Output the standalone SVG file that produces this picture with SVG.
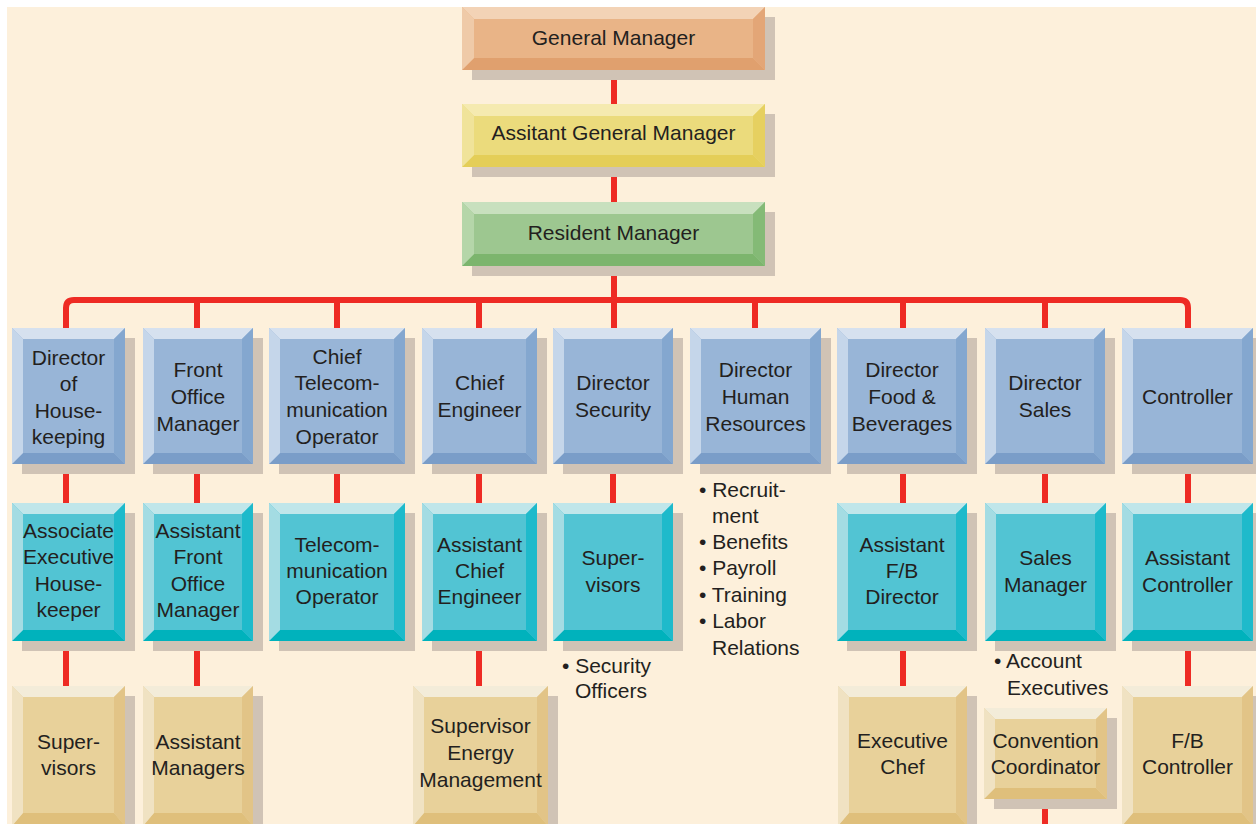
<svg xmlns="http://www.w3.org/2000/svg" width="1256" height="824" viewBox="0 0 1256 824">
<style>
text{font-family:"Liberation Sans",Arial,sans-serif;font-size:21px;fill:#231F20;text-anchor:middle}
.bl{text-anchor:start}
.sh{fill:#D0C3B5}
.conn line,.conn path{stroke:#EE2B24;stroke-width:6;fill:none}
.gm .f{fill:#E9B487}.gm .t{fill:#F3D3B6}.gm .l{fill:#EFCAA8}.gm .r{fill:#E3A677}.gm .b{fill:#E0A06E}
.ag .f{fill:#EBDB7C}.ag .t{fill:#F5EAB0}.ag .l{fill:#F0E39A}.ag .r{fill:#E6D060}.ag .b{fill:#E4CE58}
.rm .f{fill:#9DC790}.rm .t{fill:#C8E0BE}.rm .l{fill:#B5D6A9}.rm .r{fill:#84BA76}.rm .b{fill:#7CB56D}
.r1 .f{fill:#98B5D7}.r1 .t{fill:#D6E1EF}.r1 .l{fill:#C5D6EA}.r1 .r{fill:#84A7CF}.r1 .b{fill:#7A9DC8}
.r2 .f{fill:#52C4D3}.r2 .t{fill:#C0E6EA}.r2 .l{fill:#A4DCE3}.r2 .r{fill:#1EBACB}.r2 .b{fill:#00B2BC}
.r3 .f{fill:#E8D19A}.r3 .t{fill:#F3ECD9}.r3 .l{fill:#F0E2C2}.r3 .r{fill:#E2C487}.r3 .b{fill:#DFBF7B}
</style>
<rect x="0" y="0" width="1256" height="824" fill="#FFFFFF"/>
<rect x="7" y="7" width="1249" height="817" fill="#FDF0DB"/>

<g id="connectors" class="conn">
<line x1="614" y1="70" x2="614" y2="104"/>
<line x1="614" y1="167" x2="614" y2="202"/>
<line x1="614" y1="266" x2="614" y2="328"/>
<path d="M66,328 V308 Q66,300 74,300 H1180 Q1188,300 1188,308 V328"/>
<line x1="197" y1="300" x2="197" y2="328"/>
<line x1="337" y1="300" x2="337" y2="328"/>
<line x1="479" y1="300" x2="479" y2="328"/>
<line x1="755" y1="300" x2="755" y2="328"/>
<line x1="903" y1="300" x2="903" y2="328"/>
<line x1="1045" y1="300" x2="1045" y2="328"/>
<line x1="66" y1="464" x2="66" y2="503"/>
<line x1="197" y1="464" x2="197" y2="503"/>
<line x1="337" y1="464" x2="337" y2="503"/>
<line x1="479" y1="464" x2="479" y2="503"/>
<line x1="613" y1="464" x2="613" y2="503"/>
<line x1="903" y1="464" x2="903" y2="503"/>
<line x1="1045" y1="464" x2="1045" y2="503"/>
<line x1="1188" y1="464" x2="1188" y2="503"/>
<line x1="66" y1="641" x2="66" y2="686"/>
<line x1="197" y1="641" x2="197" y2="686"/>
<line x1="479" y1="641" x2="479" y2="686"/>
<line x1="903" y1="641" x2="903" y2="686"/>
<line x1="1188" y1="641" x2="1188" y2="686"/>
<line x1="1045" y1="799" x2="1045" y2="824"/>
</g>

<g id="general-manager" class="gm">
<rect class="sh" x="472" y="17" width="303" height="63"/>
<rect class="f" x="462" y="7" width="303" height="63"/>
<polygon class="t" points="462,7 765,7 753,19 474,19"/>
<polygon class="b" points="462,70 765,70 753,58 474,58"/>
<polygon class="l" points="462,7 474,19 474,58 462,70"/>
<polygon class="r" points="765,7 753,19 753,58 765,70"/>
<text x="613.5" y="45">General Manager</text>
</g>

<g id="assistant-gm" class="ag">
<rect class="sh" x="472" y="114" width="303" height="63"/>
<rect class="f" x="462" y="104" width="303" height="63"/>
<polygon class="t" points="462,104 765,104 753,116 474,116"/>
<polygon class="b" points="462,167 765,167 753,155 474,155"/>
<polygon class="l" points="462,104 474,116 474,155 462,167"/>
<polygon class="r" points="765,104 753,116 753,155 765,167"/>
<text x="613.5" y="140">Assitant General Manager</text>
</g>

<g id="resident-manager" class="rm">
<rect class="sh" x="472" y="212" width="303" height="64"/>
<rect class="f" x="462" y="202" width="303" height="64"/>
<polygon class="t" points="462,202 765,202 753,214 474,214"/>
<polygon class="b" points="462,266 765,266 753,254 474,254"/>
<polygon class="l" points="462,202 474,214 474,254 462,266"/>
<polygon class="r" points="765,202 753,214 753,254 765,266"/>
<text x="613.5" y="240">Resident Manager</text>
</g>

<!-- Row 1 -->
<g id="dir-housekeeping" class="r1">
<rect class="sh" x="22" y="338" width="113" height="136"/>
<rect class="f" x="12" y="328" width="113" height="136"/>
<polygon class="t" points="12,328 125,328 114,339 23,339"/>
<polygon class="b" points="12,464 125,464 114,453 23,453"/>
<polygon class="l" points="12,328 23,339 23,453 12,464"/>
<polygon class="r" points="125,328 114,339 114,453 125,464"/>
<text x="68.5" y="365">Director</text><text x="68.5" y="391">of</text><text x="68.5" y="418">House-</text><text x="68.5" y="444">keeping</text>
</g>

<g id="front-office-manager" class="r1">
<rect class="sh" x="153" y="338" width="110" height="136"/>
<rect class="f" x="143" y="328" width="110" height="136"/>
<polygon class="t" points="143,328 253,328 242,339 154,339"/>
<polygon class="b" points="143,464 253,464 242,453 154,453"/>
<polygon class="l" points="143,328 154,339 154,453 143,464"/>
<polygon class="r" points="253,328 242,339 242,453 253,464"/>
<text x="198" y="377">Front</text><text x="198" y="404">Office</text><text x="198" y="431">Manager</text>
</g>

<g id="chief-telecom-operator" class="r1">
<rect class="sh" x="279" y="338" width="136" height="136"/>
<rect class="f" x="269" y="328" width="136" height="136"/>
<polygon class="t" points="269,328 405,328 394,339 280,339"/>
<polygon class="b" points="269,464 405,464 394,453 280,453"/>
<polygon class="l" points="269,328 280,339 280,453 269,464"/>
<polygon class="r" points="405,328 394,339 394,453 405,464"/>
<text x="337" y="364">Chief</text><text x="337" y="390">Telecom-</text><text x="337" y="417">munication</text><text x="337" y="444">Operator</text>
</g>

<g id="chief-engineer" class="r1">
<rect class="sh" x="432" y="338" width="115" height="136"/>
<rect class="f" x="422" y="328" width="115" height="136"/>
<polygon class="t" points="422,328 537,328 526,339 433,339"/>
<polygon class="b" points="422,464 537,464 526,453 433,453"/>
<polygon class="l" points="422,328 433,339 433,453 422,464"/>
<polygon class="r" points="537,328 526,339 526,453 537,464"/>
<text x="479.5" y="390">Chief</text><text x="479.5" y="417">Engineer</text>
</g>

<g id="director-security" class="r1">
<rect class="sh" x="563" y="338" width="120" height="136"/>
<rect class="f" x="553" y="328" width="120" height="136"/>
<polygon class="t" points="553,328 673,328 662,339 564,339"/>
<polygon class="b" points="553,464 673,464 662,453 564,453"/>
<polygon class="l" points="553,328 564,339 564,453 553,464"/>
<polygon class="r" points="673,328 662,339 662,453 673,464"/>
<text x="613" y="390">Director</text><text x="613" y="417">Security</text>
</g>

<g id="director-hr" class="r1">
<rect class="sh" x="700" y="338" width="131" height="136"/>
<rect class="f" x="690" y="328" width="131" height="136"/>
<polygon class="t" points="690,328 821,328 810,339 701,339"/>
<polygon class="b" points="690,464 821,464 810,453 701,453"/>
<polygon class="l" points="690,328 701,339 701,453 690,464"/>
<polygon class="r" points="821,328 810,339 810,453 821,464"/>
<text x="755.5" y="377">Director</text><text x="755.5" y="404">Human</text><text x="755.5" y="431">Resources</text>
</g>

<g id="director-fb" class="r1">
<rect class="sh" x="847" y="338" width="130" height="136"/>
<rect class="f" x="837" y="328" width="130" height="136"/>
<polygon class="t" points="837,328 967,328 956,339 848,339"/>
<polygon class="b" points="837,464 967,464 956,453 848,453"/>
<polygon class="l" points="837,328 848,339 848,453 837,464"/>
<polygon class="r" points="967,328 956,339 956,453 967,464"/>
<text x="902" y="377">Director</text><text x="902" y="404">Food &amp;</text><text x="902" y="431">Beverages</text>
</g>

<g id="director-sales" class="r1">
<rect class="sh" x="995" y="338" width="120" height="136"/>
<rect class="f" x="985" y="328" width="120" height="136"/>
<polygon class="t" points="985,328 1105,328 1094,339 996,339"/>
<polygon class="b" points="985,464 1105,464 1094,453 996,453"/>
<polygon class="l" points="985,328 996,339 996,453 985,464"/>
<polygon class="r" points="1105,328 1094,339 1094,453 1105,464"/>
<text x="1045" y="390">Director</text><text x="1045" y="417">Sales</text>
</g>

<g id="controller" class="r1">
<rect class="sh" x="1132" y="338" width="131" height="136"/>
<rect class="f" x="1122" y="328" width="131" height="136"/>
<polygon class="t" points="1122,328 1253,328 1242,339 1133,339"/>
<polygon class="b" points="1122,464 1253,464 1242,453 1133,453"/>
<polygon class="l" points="1122,328 1133,339 1133,453 1122,464"/>
<polygon class="r" points="1253,328 1242,339 1242,453 1253,464"/>
<text x="1187.5" y="404">Controller</text>
</g>

<!-- Row 2 -->
<g id="assoc-exec-housekeeper" class="r2">
<rect class="sh" x="22" y="513" width="113" height="138"/>
<rect class="f" x="12" y="503" width="113" height="138"/>
<polygon class="t" points="12,503 125,503 114,514 23,514"/>
<polygon class="b" points="12,641 125,641 114,630 23,630"/>
<polygon class="l" points="12,503 23,514 23,630 12,641"/>
<polygon class="r" points="125,503 114,514 114,630 125,641"/>
<text x="68.5" y="538">Associate</text><text x="68.5" y="564">Executive</text><text x="68.5" y="591">House-</text><text x="68.5" y="617">keeper</text>
</g>

<g id="asst-front-office-manager" class="r2">
<rect class="sh" x="153" y="513" width="110" height="138"/>
<rect class="f" x="143" y="503" width="110" height="138"/>
<polygon class="t" points="143,503 253,503 242,514 154,514"/>
<polygon class="b" points="143,641 253,641 242,630 154,630"/>
<polygon class="l" points="143,503 154,514 154,630 143,641"/>
<polygon class="r" points="253,503 242,514 242,630 253,641"/>
<text x="198" y="538">Assistant</text><text x="198" y="564">Front</text><text x="198" y="591">Office</text><text x="198" y="617">Manager</text>
</g>

<g id="telecom-operator" class="r2">
<rect class="sh" x="279" y="513" width="136" height="138"/>
<rect class="f" x="269" y="503" width="136" height="138"/>
<polygon class="t" points="269,503 405,503 394,514 280,514"/>
<polygon class="b" points="269,641 405,641 394,630 280,630"/>
<polygon class="l" points="269,503 280,514 280,630 269,641"/>
<polygon class="r" points="405,503 394,514 394,630 405,641"/>
<text x="337" y="552">Telecom-</text><text x="337" y="578">munication</text><text x="337" y="604">Operator</text>
</g>

<g id="asst-chief-engineer" class="r2">
<rect class="sh" x="432" y="513" width="115" height="138"/>
<rect class="f" x="422" y="503" width="115" height="138"/>
<polygon class="t" points="422,503 537,503 526,514 433,514"/>
<polygon class="b" points="422,641 537,641 526,630 433,630"/>
<polygon class="l" points="422,503 433,514 433,630 422,641"/>
<polygon class="r" points="537,503 526,514 526,630 537,641"/>
<text x="479.5" y="552">Assistant</text><text x="479.5" y="578">Chief</text><text x="479.5" y="604">Engineer</text>
</g>

<g id="security-supervisors" class="r2">
<rect class="sh" x="563" y="513" width="120" height="138"/>
<rect class="f" x="553" y="503" width="120" height="138"/>
<polygon class="t" points="553,503 673,503 662,514 564,514"/>
<polygon class="b" points="553,641 673,641 662,630 564,630"/>
<polygon class="l" points="553,503 564,514 564,630 553,641"/>
<polygon class="r" points="673,503 662,514 662,630 673,641"/>
<text x="613" y="565">Super-</text><text x="613" y="592">visors</text>
</g>

<g id="asst-fb-director" class="r2">
<rect class="sh" x="847" y="513" width="130" height="138"/>
<rect class="f" x="837" y="503" width="130" height="138"/>
<polygon class="t" points="837,503 967,503 956,514 848,514"/>
<polygon class="b" points="837,641 967,641 956,630 848,630"/>
<polygon class="l" points="837,503 848,514 848,630 837,641"/>
<polygon class="r" points="967,503 956,514 956,630 967,641"/>
<text x="902" y="552">Assistant</text><text x="902" y="578">F/B</text><text x="902" y="604">Director</text>
</g>

<g id="sales-manager" class="r2">
<rect class="sh" x="995" y="513" width="121" height="138"/>
<rect class="f" x="985" y="503" width="121" height="138"/>
<polygon class="t" points="985,503 1106,503 1095,514 996,514"/>
<polygon class="b" points="985,641 1106,641 1095,630 996,630"/>
<polygon class="l" points="985,503 996,514 996,630 985,641"/>
<polygon class="r" points="1106,503 1095,514 1095,630 1106,641"/>
<text x="1045.5" y="565">Sales</text><text x="1045.5" y="592">Manager</text>
</g>

<g id="asst-controller" class="r2">
<rect class="sh" x="1132" y="513" width="131" height="138"/>
<rect class="f" x="1122" y="503" width="131" height="138"/>
<polygon class="t" points="1122,503 1253,503 1242,514 1133,514"/>
<polygon class="b" points="1122,641 1253,641 1242,630 1133,630"/>
<polygon class="l" points="1122,503 1133,514 1133,630 1122,641"/>
<polygon class="r" points="1253,503 1242,514 1242,630 1253,641"/>
<text x="1187.5" y="565">Assistant</text><text x="1187.5" y="592">Controller</text>
</g>

<!-- Bulleted notes -->
<g id="hr-duties">
<text class="bl" x="699" y="497">• Recruit-</text>
<text class="bl" x="712" y="523">ment</text>
<text class="bl" x="699" y="549">• Benefits</text>
<text class="bl" x="699" y="575">• Payroll</text>
<text class="bl" x="699" y="602">• Training</text>
<text class="bl" x="699" y="628">• Labor</text>
<text class="bl" x="712" y="655">Relations</text>
</g>
<g id="security-officers">
<text class="bl" x="562" y="673">• Security</text>
<text class="bl" x="575" y="698">Officers</text>
</g>
<g id="account-executives">
<text class="bl" x="994" y="668">• Account</text>
<text class="bl" x="1007" y="695">Executives</text>
</g>

<!-- Row 3 -->
<g id="hk-supervisors" class="r3">
<rect class="sh" x="22" y="696" width="113" height="140"/>
<rect class="f" x="12" y="686" width="113" height="140"/>
<polygon class="t" points="12,686 125,686 114,697 23,697"/>
<polygon class="b" points="12,826 125,826 114,813 23,813"/>
<polygon class="l" points="12,686 23,697 23,813 12,826"/>
<polygon class="r" points="125,686 114,697 114,813 125,826"/>
<text x="68.5" y="749">Super-</text><text x="68.5" y="775">visors</text>
</g>

<g id="assistant-managers" class="r3">
<rect class="sh" x="153" y="696" width="110" height="140"/>
<rect class="f" x="143" y="686" width="110" height="140"/>
<polygon class="t" points="143,686 253,686 242,697 154,697"/>
<polygon class="b" points="143,826 253,826 242,813 154,813"/>
<polygon class="l" points="143,686 154,697 154,813 143,826"/>
<polygon class="r" points="253,686 242,697 242,813 253,826"/>
<text x="198" y="749">Assistant</text><text x="198" y="775">Managers</text>
</g>

<g id="supervisor-energy" class="r3">
<rect class="sh" x="423" y="696" width="135" height="140"/>
<rect class="f" x="413" y="686" width="135" height="140"/>
<polygon class="t" points="413,686 548,686 537,697 424,697"/>
<polygon class="b" points="413,826 548,826 537,813 424,813"/>
<polygon class="l" points="413,686 424,697 424,813 413,826"/>
<polygon class="r" points="548,686 537,697 537,813 548,826"/>
<text x="480.5" y="733">Supervisor</text><text x="480.5" y="760">Energy</text><text x="480.5" y="787">Management</text>
</g>

<g id="executive-chef" class="r3">
<rect class="sh" x="848" y="696" width="129" height="140"/>
<rect class="f" x="838" y="686" width="129" height="140"/>
<polygon class="t" points="838,686 967,686 956,697 849,697"/>
<polygon class="b" points="838,826 967,826 956,813 849,813"/>
<polygon class="l" points="838,686 849,697 849,813 838,826"/>
<polygon class="r" points="967,686 956,697 956,813 967,826"/>
<text x="902.5" y="748">Executive</text><text x="902.5" y="774">Chef</text>
</g>

<g id="convention-coordinator" class="r3">
<rect class="sh" x="994" y="718" width="123" height="91"/>
<rect class="f" x="984" y="708" width="123" height="91"/>
<polygon class="t" points="984,708 1107,708 1096,719 995,719"/>
<polygon class="b" points="984,799 1107,799 1096,788 995,788"/>
<polygon class="l" points="984,708 995,719 995,788 984,799"/>
<polygon class="r" points="1107,708 1096,719 1096,788 1107,799"/>
<text x="1045.5" y="748">Convention</text><text x="1045.5" y="774">Coordinator</text>
</g>

<g id="fb-controller" class="r3">
<rect class="sh" x="1132" y="696" width="131" height="140"/>
<rect class="f" x="1122" y="686" width="131" height="140"/>
<polygon class="t" points="1122,686 1253,686 1242,697 1133,697"/>
<polygon class="b" points="1122,826 1253,826 1242,813 1133,813"/>
<polygon class="l" points="1122,686 1133,697 1133,813 1122,826"/>
<polygon class="r" points="1253,686 1242,697 1242,813 1253,826"/>
<text x="1187.5" y="748">F/B</text><text x="1187.5" y="774">Controller</text>
</g>
</svg>
